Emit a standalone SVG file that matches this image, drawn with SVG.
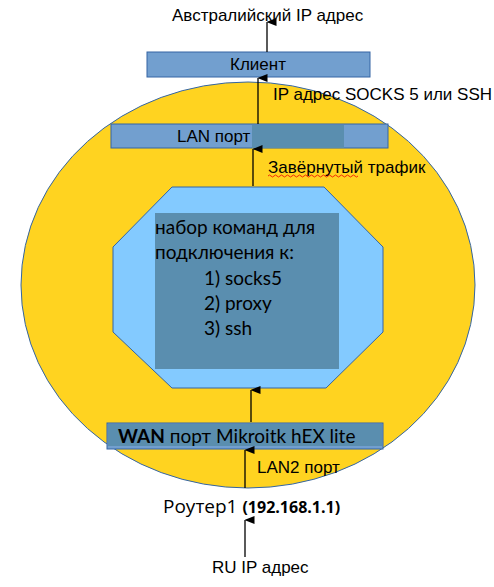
<svg xmlns="http://www.w3.org/2000/svg" width="494" height="587" viewBox="0 0 494 587">
<defs>
<style>
.lbl{font-family:"Liberation Sans",Arial,sans-serif;font-size:17px;fill:#000}
.cal{font-family:Lato,"Open Sans",sans-serif;font-size:19px;fill:#000}
.ln{stroke:#000;stroke-width:1.3;fill:none}
.box{fill:#729fcf;stroke:#3465a4;stroke-width:1}
.dark{fill:#5a8eaf}
</style>
<marker id="ah" markerWidth="8" markerHeight="10" refX="4" refY="0.5" orient="auto-start-reverse" markerUnits="userSpaceOnUse" viewBox="0 0 8 10">
<path d="M0,10 L4,0 L8,10 Z" fill="#000"/>
</marker>
</defs>
<rect width="494" height="587" fill="#fff"/>
<g id="ellipse">
<ellipse cx="248" cy="285" rx="227" ry="203" fill="#ffd320" stroke="#3465a4" stroke-width="1"/>
</g>
<g id="client">
<rect class="box" x="147" y="52" width="223" height="25"/>
<text class="lbl" x="258" y="70" text-anchor="middle">Клиент</text>
</g>
<g id="lan">
<rect class="box" x="111" y="124" width="277" height="24"/>
<rect class="dark" x="252" y="125" width="92" height="23"/>
<text class="lbl" x="177" y="142">LAN порт</text>
</g>
<g id="octagon">
<polygon points="172,187 324,187 383,247 383,332 326,388 172,388 113,332 113,247" fill="#83caff" stroke="#3465a4" stroke-width="1"/>
<rect class="dark" x="155" y="213" width="184" height="156"/>
<text class="cal" x="155" y="234">набор команд для</text>
<text class="cal" x="155" y="259">подключения к:</text>
<text class="cal" x="204" y="285">1) socks5</text>
<text class="cal" x="204" y="310">2) proxy</text>
<text class="cal" x="204" y="335">3) ssh</text>
</g>
<g id="wan">
<rect class="box" x="107" y="423" width="276" height="26"/>
<rect class="dark" x="108" y="424" width="274" height="22"/>
<text class="cal" x="118" y="443" style="font-size:19px"><tspan font-weight="bold">WAN</tspan> порт Mikroitk hEX lite</text>
</g>
<g id="router">
<text x="163" y="513" style="font-family:'Open Sans',Lato,sans-serif;font-size:19px;fill:#000">Роутер1 <tspan font-weight="bold" font-size="16">(192.168.1.1)</tspan></text>
</g>
<g id="labels">
<text class="lbl" x="172" y="21">Австралийский IP адрес</text>
<text class="lbl" x="273" y="100">IP адрес SOCKS 5 или SSH</text>
<text class="lbl" x="268" y="173">Завёрнутый трафик</text>
<path d="M268,176 q1.5,-2 3,0 t3,0 t3,0 t3,0 t3,0 t3,0 t3,0 t3,0 t3,0 t3,0 t3,0 t3,0 t3,0 t3,0 t3,0 t3,0 t3,0 t3,0 t3,0 t3,0 t3,0 t3,0 t3,0 t3,0 t3,0 t3,0 t3,0 t3,0 t3,0 t3,0" fill="none" stroke="#e00" stroke-width="0.8"/>
<text class="lbl" x="257" y="473">LAN2 порт</text>
<text class="lbl" x="212" y="573">RU IP адрес</text>
</g>
<g id="connectors">
<line class="ln" x1="267" y1="52" x2="267" y2="22" marker-end="url(#ah)"/>
<line class="ln" x1="258" y1="124" x2="258" y2="78" marker-end="url(#ah)"/>
<line class="ln" x1="253" y1="186" x2="253" y2="149" marker-end="url(#ah)"/>
<line class="ln" x1="251" y1="422" x2="251" y2="390" marker-end="url(#ah)"/>
<line class="ln" x1="245" y1="488" x2="245" y2="450" marker-end="url(#ah)"/>
<line class="ln" x1="245" y1="557" x2="245" y2="520" marker-end="url(#ah)"/>
</g>
</svg>
